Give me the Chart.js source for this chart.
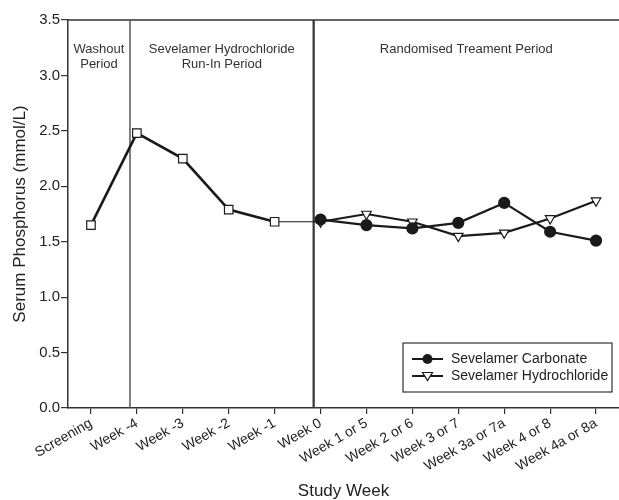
<!DOCTYPE html>
<html>
<head>
<meta charset="utf-8">
<script src="https://cdn.jsdelivr.net/npm/chart.js@4.4.1/dist/chart.umd.min.js"></script>
<style>
  html, body { margin: 0; padding: 0; background: #fff; }
  #wrap { width: 619px; height: 500px; }
</style>
</head>
<body>
<div id="wrap"><canvas id="phosChart"></canvas></div>
<script>
// study weeks along the x axis
const weeks = ['Screening', 'Week -4', 'Week -3', 'Week -2', 'Week -1', 'Week 0',
  'Week 1 or 5', 'Week 2 or 6', 'Week 3 or 7', 'Week 3a or 7a', 'Week 4 or 8', 'Week 4a or 8a'];

// run-in (both groups on sevelamer hydrochloride), squares
const runInValues = [1.65, 2.48, 2.25, 1.79, 1.68, null, null, null, null, null, null, null];
// thin join from week -1 into week 0
const joinValues = [null, null, null, null, 1.68, 1.68, null, null, null, null, null, null];
// randomised period
const carbonateValues = [null, null, null, null, null, 1.70, 1.65, 1.62, 1.67, 1.85, 1.59, 1.51];
const hydrochlorideValues = [null, null, null, null, null, 1.68, 1.75, 1.68, 1.55, 1.58, 1.71, 1.87];

const yTicks = [0, 0.5, 1.0, 1.5, 2.0, 2.5, 3.0, 3.5];

// period boundaries, as category positions
const periodLines = [0.85, 4.85];

const FONT = 'Liberation Sans, Arial, Helvetica, sans-serif';
const INK = '#1a1a1a';

const periodPlugin = {
  id: 'periods',
  beforeDatasetsDraw(chart) {
    const { ctx, chartArea: a, scales: { x } } = chart;
    const x1 = x.getPixelForValue(periodLines[0]);
    const x2 = x.getPixelForValue(periodLines[1]);
    ctx.save();
    // top border
    ctx.strokeStyle = '#333';
    ctx.lineWidth = 1.5;
    ctx.beginPath();
    ctx.moveTo(a.left, a.top);
    ctx.lineTo(a.right, a.top);
    ctx.stroke();
    // period lines
    ctx.strokeStyle = '#555';
    ctx.lineWidth = 1.5;
    ctx.beginPath();
    ctx.moveTo(x1, a.top);
    ctx.lineTo(x1, a.bottom);
    ctx.stroke();
    ctx.strokeStyle = '#333';
    ctx.lineWidth = 2.2;
    ctx.beginPath();
    ctx.moveTo(x2, a.top);
    ctx.lineTo(x2, a.bottom);
    ctx.stroke();
    // period labels
    ctx.fillStyle = '#333';
    ctx.font = '13px ' + FONT;
    ctx.textAlign = 'center';
    ctx.textBaseline = 'middle';
    const c1 = (a.left + x1) / 2, c2 = (x1 + x2) / 2, c3 = (x2 + a.right) / 2;
    ctx.fillText('Washout', c1, a.top + 29);
    ctx.fillText('Period', c1, a.top + 44);
    ctx.fillText('Sevelamer Hydrochloride', c2, a.top + 29);
    ctx.fillText('Run-In Period', c2, a.top + 44);
    ctx.fillText('Randomised Treament Period', c3, a.top + 29);
    ctx.restore();
  },
  afterDraw(chart) {
    const { ctx, chartArea: a } = chart;
    const bx = 403, by = a.bottom - 65, bw = 209, bh = 49;
    ctx.save();
    ctx.fillStyle = '#fff';
    ctx.fillRect(bx, by, bw, bh);
    ctx.strokeStyle = '#333';
    ctx.lineWidth = 1.2;
    ctx.strokeRect(bx, by, bw, bh);
    const rows = [
      { label: 'Sevelamer Carbonate', marker: 'circle' },
      { label: 'Sevelamer Hydrochloride', marker: 'triangle' }
    ];
    rows.forEach((r, i) => {
      const y = by + 16 + i * 17;
      ctx.strokeStyle = INK;
      ctx.lineWidth = 2;
      ctx.beginPath();
      ctx.moveTo(bx + 9, y);
      ctx.lineTo(bx + 40, y);
      ctx.stroke();
      const mx = bx + 24.5;
      ctx.lineWidth = 1.2;
      if (r.marker === 'circle') {
        ctx.fillStyle = INK;
        ctx.beginPath();
        ctx.arc(mx, y, 5, 0, Math.PI * 2);
        ctx.fill();
      } else {
        ctx.fillStyle = '#fff';
        ctx.beginPath();
        ctx.moveTo(mx - 5, y - 3.5);
        ctx.lineTo(mx + 5, y - 3.5);
        ctx.lineTo(mx, y + 4.5);
        ctx.closePath();
        ctx.fill();
        ctx.stroke();
      }
      ctx.fillStyle = '#222';
      ctx.font = '14px ' + FONT;
      ctx.textAlign = 'left';
      ctx.textBaseline = 'middle';
      ctx.fillText(r.label, bx + 48, y);
    });
    ctx.restore();
  }
};

new Chart(document.getElementById('phosChart').getContext('2d'), {
  type: 'line',
  data: {
    labels: weeks,
    datasets: [
      {
        label: 'Run-in',
        data: runInValues,
        borderColor: INK,
        borderWidth: 2.6,
        pointStyle: 'rect',
        pointRadius: 6,
        pointBackgroundColor: '#fff',
        pointBorderColor: INK,
        pointBorderWidth: 1.2,
        tension: 0
      },
      {
        label: 'Join',
        data: joinValues,
        borderColor: INK,
        borderWidth: 1,
        pointRadius: 0,
        tension: 0
      },
      {
        label: 'Sevelamer Carbonate',
        data: carbonateValues,
        borderColor: INK,
        borderWidth: 2.2,
        pointStyle: 'circle',
        pointRadius: 5,
        pointBackgroundColor: INK,
        pointBorderColor: INK,
        tension: 0
      },
      {
        label: 'Sevelamer Hydrochloride',
        data: hydrochlorideValues,
        borderColor: INK,
        borderWidth: 2.2,
        pointStyle: 'triangle',
        rotation: 180,
        pointRadius: 5.5,
        pointBackgroundColor: '#fff',
        pointBorderColor: INK,
        pointBorderWidth: 1.2,
        tension: 0
      }
    ]
  },
  options: {
    responsive: true,
    maintainAspectRatio: false,
    animation: false,
    layout: { autoPadding: false, padding: { top: 20, right: -2, left: 0, bottom: 0 } },
    plugins: {
      legend: { display: false },
      tooltip: { enabled: false }
    },
    scales: {
      x: {
        offset: true,
        afterFit: s => { s.height = 92; s.paddingRight = 0; },
        grid: { offset: false, drawOnChartArea: false, drawTicks: true, tickLength: 6, color: '#333', lineWidth: 1.2 },
        border: { color: '#333', width: 1.5 },
        ticks: {
          color: '#222',
          font: { family: FONT, size: 14 },
          minRotation: 30,
          maxRotation: 30,
          autoSkip: false,
          padding: 1
        },
        title: {
          display: true,
          text: 'Study Week',
          color: '#222',
          font: { family: FONT, size: 17, lineHeight: 1.0 },
          padding: { top: 0, bottom: 0 }
        }
      },
      y: {
        min: 0,
        max: 3.5,
        afterFit: s => { s.width = 68; },
        afterBuildTicks: s => { s.ticks = yTicks.map(v => ({ value: v })); },
        grid: { drawOnChartArea: false, drawTicks: true, tickLength: 7, color: '#333', lineWidth: 1.2 },
        border: { color: '#333', width: 1.5 },
        ticks: {
          color: '#222',
          font: { family: FONT, size: 15 },
          padding: 1,
          callback: v => Number(v).toFixed(1)
        },
        title: {
          display: true,
          text: 'Serum Phosphorus (mmol/L)',
          color: '#222',
          font: { family: FONT, size: 17 },
          padding: { top: 10, bottom: 0 }
        }
      }
    }
  },
  plugins: [periodPlugin]
});
</script>
</body>
</html>
